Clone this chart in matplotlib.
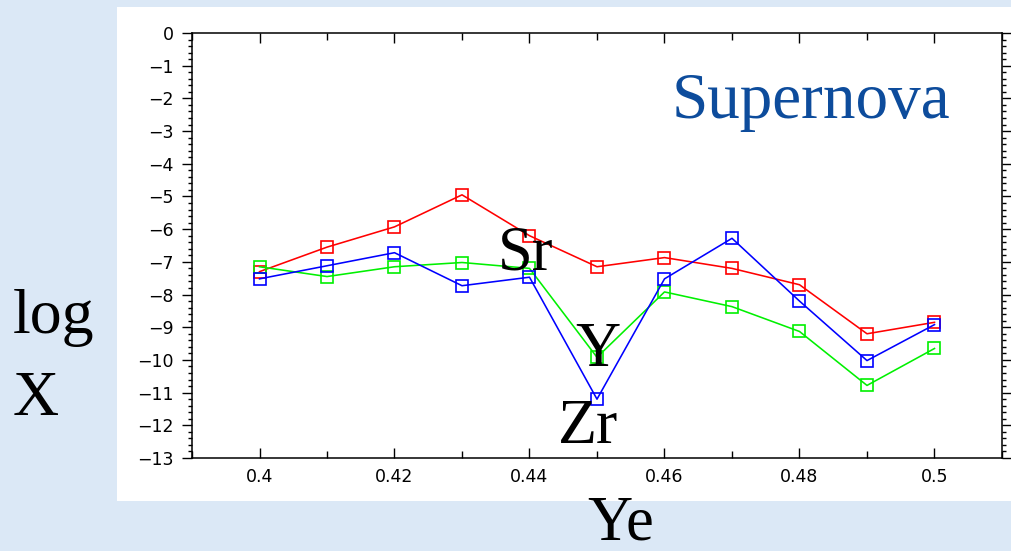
import matplotlib
matplotlib.use("Agg")
import matplotlib.pyplot as plt
from matplotlib.patches import Rectangle
from matplotlib.ticker import MultipleLocator, FixedFormatter, FixedLocator

# electron fraction Ye and log abundance of Sr, Y, Zr
ye = [0.40, 0.41, 0.42, 0.43, 0.44, 0.45, 0.46, 0.47, 0.48, 0.49, 0.50]
log_sr = [-7.3, -6.55, -5.93, -4.95, -6.2, -7.15, -6.87, -7.2, -7.7, -9.2, -8.85]
log_y = [-7.15, -7.45, -7.15, -7.02, -7.2, -9.92, -7.92, -8.37, -9.13, -10.78, -9.65]
log_zr = [-7.52, -7.12, -6.72, -7.73, -7.47, -11.2, -7.52, -6.28, -8.2, -10.02, -8.92]

x_ticks = [0.40, 0.42, 0.44, 0.46, 0.48, 0.50]
x_labels = ["0.4", "0.42", "0.44", "0.46", "0.48", "0.5"]

W, H = 1012, 551
fig = plt.figure(figsize=(W / 100, H / 100), dpi=100)
fig.patch.set_facecolor("#dbe8f6")

def fx(px):
    return px / W

def fy(py):
    return 1 - py / H

# white card behind the plot
fig.patches.append(Rectangle((fx(117), fy(501)), fx(1012) - fx(117), fy(7) - fy(501),
                             transform=fig.transFigure, facecolor="white",
                             edgecolor="none", zorder=-5))

ax = fig.add_axes([fx(192), fy(458), fx(1002) - fx(192), fy(33) - fy(458)])
ax.set_facecolor("white")
ax.set_zorder(1)

mk = dict(marker="s", markersize=8, markerfacecolor="none", markeredgewidth=1.2, lw=1.15)
ax.plot(ye, log_sr, color="#ff0000", **mk)
ax.plot(ye, log_y, color="#00f000", **mk)
ax.plot(ye, log_zr, color="#0000ff", **mk)

ax.set_xlim(0.39, 0.51)
ax.set_ylim(-13, 0)
ax.xaxis.set_major_locator(FixedLocator(x_ticks))
ax.xaxis.set_major_formatter(FixedFormatter(x_labels))
ax.xaxis.set_minor_locator(MultipleLocator(0.01))
ax.yaxis.set_major_locator(MultipleLocator(1))
ax.yaxis.set_minor_locator(MultipleLocator(0.2))

for s in ax.spines.values():
    s.set_linewidth(1.1)
ax.tick_params(axis="x", which="both", direction="in", top=True, bottom=True,
               labelsize=12.5, pad=7, width=1.0)
ax.tick_params(axis="x", which="major", length=7.5)
ax.tick_params(axis="x", which="minor", length=5)
ax.tick_params(axis="y", which="both", direction="out", left=True, right=True,
               labelsize=12.5, pad=6, width=1.0)
ax.tick_params(axis="y", which="major", length=7)
ax.tick_params(axis="y", which="minor", length=3)

serif = "Liberation Serif"
fig.text(fx(672), fy(118), "Supernova", family=serif, fontsize=47, color="#0d4c9c",
         ha="left", va="baseline", zorder=5)
fig.text(fx(13), fy(333), "log", family=serif, fontsize=46, ha="left", va="baseline")
fig.text(fx(13), fy(415), "X", family=serif, fontsize=46, ha="left", va="baseline")
fig.text(fx(621), fy(539), "Ye", family=serif, fontsize=45, ha="center", va="baseline")
fig.text(fx(498), fy(270), "Sr", family=serif, fontsize=45, ha="left", va="baseline", zorder=5)
fig.text(fx(575), fy(366), "Y", family=serif, fontsize=45, ha="left", va="baseline", zorder=5)
fig.text(fx(558), fy(443), "Zr", family=serif, fontsize=46, ha="left", va="baseline", zorder=5)

fig.savefig("out.png", dpi=100, facecolor=fig.get_facecolor())
